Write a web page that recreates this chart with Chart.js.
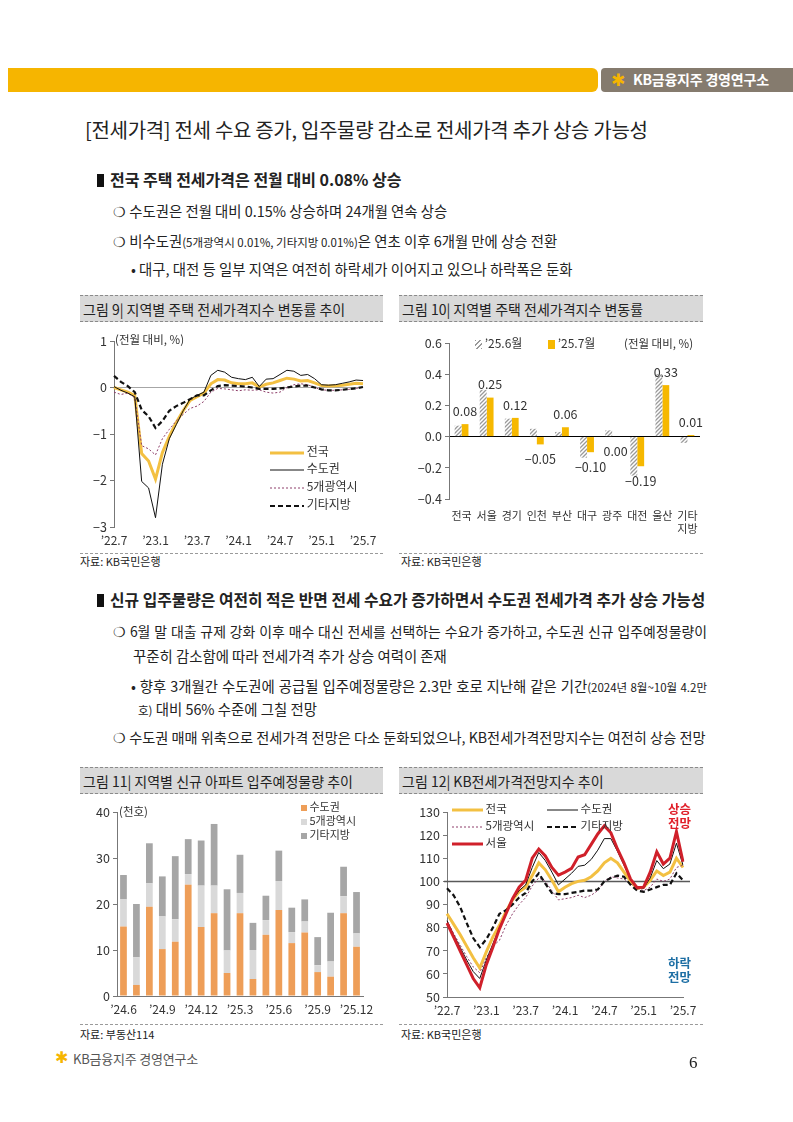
<!DOCTYPE html>
<html>
<head>
<meta charset="utf-8">
<script src="https://cdn.jsdelivr.net/npm/chart.js@4"></script>
<style>
body{margin:0;width:793px;height:1122px;position:relative;background:#fff;overflow:hidden;
  font-family:"Noto Sans CJK KR","Noto Sans",sans-serif;color:#222}
.t{position:absolute;white-space:nowrap;line-height:1}
.b{font-size:14.4px}
.b small{font-size:11.5px}
.sq{display:inline-block;width:7px;height:13px;background:#111;margin-right:6px;vertical-align:-1px}
.just{text-align:justify;text-align-last:justify}
.fig{position:absolute;height:27px;background:#d9d9d9;border-top:1px dashed #8a8a8a;border-bottom:1px dashed #8a8a8a;
  font-size:14px;line-height:26px;padding-left:3px;box-sizing:border-box;white-space:nowrap}
.src{position:absolute;font-size:11px;line-height:1;white-space:nowrap}
.sep{position:absolute;height:0;border-top:1px dashed #9a9a9a}
.cv{position:absolute}
.lg{position:absolute;font-size:11px;line-height:1;white-space:nowrap;color:#333}
.lg svg{vertical-align:middle}
</style>
</head>
<body>

<!-- header -->
<div style="position:absolute;left:8px;top:68px;width:590px;height:24px;background:#F6B500;border-radius:0 6px 6px 0"></div>
<div style="position:absolute;left:601px;top:68px;width:192px;height:24px;background:#857b6e;border-radius:4px 0 0 4px"></div>
<div class="t" style="left:611px;top:72px;font-size:17px;color:#F6B500;font-family:'DejaVu Sans'">✱</div>
<div class="t" style="left:633px;top:72px;font-size:14px;font-weight:bold;color:#fff;letter-spacing:-0.2px">KB금융지주 경영연구소</div>

<div class="t" style="left:85px;top:120px;font-size:20px;letter-spacing:-0.3px">[전세가격] 전세 수요 증가, 입주물량 감소로 전세가격 추가 상승 가능성</div>

<div class="t" style="left:97px;top:171px;font-size:16px;font-weight:bold"><span class="sq"></span>전국 주택 전세가격은 전월 대비 0.08% 상승</div>
<div class="t b" style="left:113px;top:204px">❍ 수도권은 전월 대비 0.15% 상승하며 24개월 연속 상승</div>
<div class="t b" style="left:113px;top:234px">❍ 비수도권<small>(5개광역시 0.01%, 기타지방 0.01%)</small>은 연초 이후 6개월 만에 상승 전환</div>
<div class="t b" style="left:131px;top:262px">• 대구, 대전 등 일부 지역은 여전히 하락세가 이어지고 있으나 하락폭은 둔화</div>

<div class="fig" style="left:80px;top:295px;width:303px">그림 9| 지역별 주택 전세가격지수 변동률 추이</div>
<div class="fig" style="left:399px;top:295px;width:304px">그림 10| 지역별 주택 전세가격지수 변동률</div>

<canvas id="c9" class="cv" width="310" height="225" style="left:80px;top:328px"></canvas>
<canvas id="c10" class="cv" width="310" height="225" style="left:400px;top:328px"></canvas>

<div class="lg" style="left:115px;top:334px;font-size:11.5px">(전월 대비, %)</div>
<div class="lg" style="left:270px;top:445px;font-size:12px"><svg width="34" height="6"><line x1="0" y1="3" x2="34" y2="3" stroke="#F3C042" stroke-width="3"/></svg> 전국</div>
<div class="lg" style="left:270px;top:462px;font-size:12px"><svg width="34" height="6"><line x1="0" y1="3" x2="34" y2="3" stroke="#111" stroke-width="1"/></svg> 수도권</div>
<div class="lg" style="left:270px;top:480px;font-size:12px"><svg width="34" height="6"><line x1="0" y1="3" x2="34" y2="3" stroke="#8e3f6a" stroke-width="1" stroke-dasharray="2 2"/></svg> 5개광역시</div>
<div class="lg" style="left:270px;top:498px;font-size:12px"><svg width="34" height="6"><line x1="0" y1="3" x2="34" y2="3" stroke="#111" stroke-width="2.2" stroke-dasharray="5 3"/></svg> 기타지방</div>

<div class="lg" style="left:475px;top:337px;font-size:12px"><span style="display:inline-block;width:7px;height:9px;background:repeating-linear-gradient(135deg,#999 0 1.3px,#fff 1.3px 3.3px);vertical-align:-1px"></span> ’25.6월</div>
<div class="lg" style="left:548px;top:337px;font-size:12px"><span style="display:inline-block;width:7px;height:9px;background:#F6B800;vertical-align:-1px"></span> ’25.7월</div>
<div class="lg" style="left:624px;top:338px;font-size:11.5px">(전월 대비, %)</div>

<div class="sep" style="left:80px;top:553px;width:303px"></div>
<div class="sep" style="left:399px;top:553px;width:304px"></div>
<div class="src" style="left:80px;top:556px">자료: KB국민은행</div>
<div class="src" style="left:401px;top:556px">자료: KB국민은행</div>

<div class="t" style="left:97px;top:592px;font-size:15.8px;font-weight:bold"><span class="sq"></span>신규 입주물량은 여전히 적은 반면 전세 수요가 증가하면서 수도권 전세가격 추가 상승 가능성</div>
<div class="t just" style="left:113px;top:625px;width:594px;font-size:13.9px">❍ 6월 말 대출 규제 강화 이후 매수 대신 전세를 선택하는 수요가 증가하고, 수도권 신규 입주예정물량이</div>
<div class="t b" style="left:133px;top:649px">꾸준히 감소함에 따라 전세가격 추가 상승 여력이 존재</div>
<div class="t b just" style="left:131px;top:679px;width:576px">• 향후 3개월간 수도권에 공급될 입주예정물량은 2.3만 호로 지난해 같은 기간<small>(2024년 8월~10월 4.2만</small></div>
<div class="t b" style="left:138px;top:702px"><small>호)</small> 대비 56% 수준에 그칠 전망</div>
<div class="t" style="left:113px;top:730px;font-size:14.2px">❍ 수도권 매매 위축으로 전세가격 전망은 다소 둔화되었으나, KB전세가격전망지수는 여전히 상승 전망</div>

<div class="fig" style="left:80px;top:767px;width:303px">그림 11| 지역별 신규 아파트 입주예정물량 추이</div>
<div class="fig" style="left:399px;top:767px;width:304px">그림 12| KB전세가격전망지수 추이</div>

<canvas id="c11" class="cv" width="310" height="225" style="left:80px;top:795px"></canvas>
<canvas id="c12" class="cv" width="310" height="225" style="left:400px;top:795px"></canvas>

<div class="lg" style="left:119px;top:806px;font-size:11.5px">(천호)</div>
<div class="lg" style="left:301px;top:801px"><span style="display:inline-block;width:6px;height:6px;background:#EE9E58"></span> 수도권</div>
<div class="lg" style="left:301px;top:815px"><span style="display:inline-block;width:6px;height:6px;background:#D9D9D9"></span> 5개광역시</div>
<div class="lg" style="left:301px;top:829px"><span style="display:inline-block;width:6px;height:6px;background:#A6A6A6"></span> 기타지방</div>

<div class="lg" style="left:452px;top:803px;font-size:11.5px"><svg width="31" height="6"><line x1="0" y1="3" x2="31" y2="3" stroke="#F3C042" stroke-width="3"/></svg> 전국</div>
<div class="lg" style="left:547px;top:803px;font-size:11.5px"><svg width="31" height="6"><line x1="0" y1="3" x2="31" y2="3" stroke="#111" stroke-width="1"/></svg> 수도권</div>
<div class="lg" style="left:452px;top:820px;font-size:11.5px"><svg width="31" height="6"><line x1="0" y1="3" x2="31" y2="3" stroke="#8e3f6a" stroke-width="1" stroke-dasharray="2 2"/></svg> 5개광역시</div>
<div class="lg" style="left:547px;top:820px;font-size:11.5px"><svg width="31" height="6"><line x1="0" y1="3" x2="31" y2="3" stroke="#111" stroke-width="2.2" stroke-dasharray="5 3"/></svg> 기타지방</div>
<div class="lg" style="left:452px;top:837px;font-size:11.5px"><svg width="31" height="6"><line x1="0" y1="3" x2="31" y2="3" stroke="#D0202A" stroke-width="3"/></svg> 서울</div>
<div class="lg" style="left:668px;top:802px;font-weight:bold;color:#E0202A;font-size:12.5px;line-height:14px;text-align:center">상승<br>전망</div>
<div class="lg" style="left:668px;top:956px;font-weight:bold;color:#1C6EA4;font-size:12.5px;line-height:14px;text-align:center">하락<br>전망</div>

<div class="sep" style="left:80px;top:1024px;width:303px"></div>
<div class="sep" style="left:399px;top:1024px;width:304px"></div>
<div class="src" style="left:80px;top:1029px">자료: 부동산114</div>
<div class="src" style="left:401px;top:1029px">자료: KB국민은행</div>

<!-- footer -->
<div class="t" style="left:55px;top:1050px;font-size:16px;color:#F6B500;font-family:'DejaVu Sans'">✱</div>
<div class="t" style="left:73px;top:1052px;font-size:13px;color:#555;letter-spacing:-0.2px">KB금융지주 경영연구소</div>
<div class="t" style="left:689px;top:1054px;font-size:17px;font-family:'Liberation Serif',serif">6</div>

<script>
// monthly labels
const months = ['22.7','22.8','22.9','22.10','22.11','22.12','23.1','23.2','23.3','23.4','23.5','23.6',
  '23.7','23.8','23.9','23.10','23.11','23.12','24.1','24.2','24.3','24.4','24.5','24.6',
  '24.7','24.8','24.9','24.10','24.11','24.12','25.1','25.2','25.3','25.4','25.5','25.6','25.7'];
const tickMonths = ['22.7','23.1','23.7','24.1','24.7','25.1','25.7'];

// 그림 9 : 전월 대비 %
const national9 = [0.0,-0.05,-0.1,-0.17,-1.42,-1.58,-1.97,-1.4,-1.05,-0.75,-0.5,-0.28,-0.2,-0.12,0.08,0.17,0.16,0.1,0.08,0.08,0.1,0.01,0.07,0.1,0.15,0.2,0.18,0.14,0.15,0.1,0.04,0.03,0.04,0.05,0.07,0.09,0.08];
const capital9 = [0.02,-0.06,-0.12,-0.2,-2.02,-2.16,-2.8,-1.65,-1.1,-0.8,-0.5,-0.25,-0.17,-0.1,0.26,0.37,0.33,0.22,0.19,0.17,0.22,0.02,0.18,0.19,0.28,0.37,0.35,0.26,0.28,0.19,0.06,0.05,0.06,0.09,0.12,0.16,0.15];
const metro9 = [-0.1,-0.15,-0.12,-0.22,-1.25,-1.32,-1.45,-1.1,-0.9,-0.72,-0.58,-0.45,-0.4,-0.3,-0.1,-0.02,-0.03,-0.05,-0.07,-0.05,-0.06,-0.05,-0.1,-0.12,-0.1,0.0,0.06,0.08,0.06,0.0,-0.05,-0.06,-0.06,-0.05,-0.04,-0.02,0.01];
const other9 = [0.25,0.12,0.03,-0.1,-0.48,-0.62,-0.87,-0.72,-0.5,-0.4,-0.33,-0.25,-0.17,-0.17,-0.06,0.03,0.05,0.04,0.03,0.02,0.0,-0.03,-0.03,-0.03,-0.02,0.0,0.02,0.04,0.04,0.0,-0.04,-0.06,-0.06,-0.05,-0.03,-0.02,0.01];

// 그림 10
const regions10 = ['전국','서울','경기','인천','부산','대구','광주','대전','울산',['기타','지방']];
const jun10 = [0.07,0.30,0.115,0.05,0.03,-0.135,0.04,-0.25,0.40,-0.04];
const jul10 = [0.08,0.25,0.12,-0.05,0.06,-0.10,0.00,-0.19,0.33,0.01];

// 그림 11 : 천호
const months11 = ['24.6','24.7','24.8','24.9','24.10','24.11','24.12','25.1','25.2','25.3','25.4','25.5','25.6','25.7','25.8','25.9','25.10','25.11','25.12'];
const tickMonths11 = ['24.6','24.9','24.12','25.3','25.6','25.9','25.12'];
const capital11 = [15.1,2.4,19.4,10.2,11.8,24.2,15.0,18.0,5.0,18.0,3.7,13.3,18.7,11.5,13.8,5.2,4.2,18.0,10.7];
const metro11 = [5.9,6.0,5.1,7.1,4.9,2.3,9.0,6.0,4.9,4.4,6.3,3.2,6.3,2.4,2.4,1.5,3.3,3.7,2.9];
const other11 = [5.3,11.6,8.7,8.7,13.7,7.6,9.8,13.4,13.3,8.3,5.9,5.3,6.6,5.3,4.8,6.1,10.6,6.4,9.0];

// 그림 12 : 전망지수
const seoul12 = [82,76,70,64,58,54,64,71.5,79.5,86,92.5,97.5,100.5,110,114,111,106,102.7,104,105.6,110.5,111.5,116,120.5,124,121,114,108,101,97.3,97.5,104,112.8,107.5,110,121.5,108.5];
const national12 = [86,81.5,77,72,67,62.5,69.5,76,81,87,92,95.5,97.5,102.5,108,105,100.5,95.5,97.5,99,100,100.5,102,104.5,108,110,108,104,100,97,97.5,100.5,104.5,102.5,104,110,106];
const capital12 = [83,77,71.5,66,61,58,66,73,80,86,92,96,98.5,106,112.5,109,104,98.5,101,103.5,106.5,107,109.5,113.5,118.5,118.5,113,107,101,97.5,97,101.5,109,105.5,107.5,116.5,107];
const metro12 = [83,77.5,72.5,67.5,63,60.5,67,72,74.5,81,86,90,93,98,101.5,100,96,92,92.5,93,94,93,94,96,100,102,101.5,101,99,97,96,97.5,101,100,101,106,107];
const other12 = [97,94,89,82,75.5,71.5,75,80,86,87.5,90,93,95,100,103.5,99,95,94.5,94.5,95,95.5,96,96,96.5,100,101.5,102.5,102,98.5,96,95.5,96.5,97.5,98.5,98.5,103.5,100.5];

Chart.defaults.font.family = '"Noto Sans CJK KR","Noto Sans",sans-serif';
Chart.defaults.font.size = 12.5;
Chart.defaults.color = '#333';
Chart.defaults.animation = false;
Chart.defaults.plugins.legend.display = false;
Chart.defaults.plugins.tooltip.enabled = false;

const signed = (v, d) => {
  const r = Math.round(v * 100) / 100;
  const s = d === undefined ? String(Math.abs(r)) : Math.abs(r).toFixed(d);
  return (r < 0 ? '−' : '') + s;
};

const monthTicks = (list, keep) => ({
  autoSkip: false, maxRotation: 0, padding: 6, font: { size: 12 },
  callback: (v, i) => keep.includes(list[i]) ? '’' + list[i] : null
});

const hatch = () => {
  const c = document.createElement('canvas');
  c.width = 4; c.height = 4;
  const g = c.getContext('2d');
  g.fillStyle = '#fff';
  g.fillRect(0, 0, 4, 4);
  g.strokeStyle = '#9a9a9a';
  g.lineWidth = 1.3;
  g.beginPath();
  g.moveTo(0, 4); g.lineTo(4, 0);
  g.moveTo(-1, 1); g.lineTo(1, -1);
  g.moveTo(3, 5); g.lineTo(5, 3);
  g.stroke();
  return g.createPattern(c, 'repeat');
};

// 그림 9
new Chart(document.getElementById('c9'), {
  type: 'line',
  data: {
    labels: months,
    datasets: [
      { data: capital9, borderColor: '#111', borderWidth: 1 },
      { data: other9, borderColor: '#111', borderWidth: 2.2, borderDash: [5, 3] },
      { data: metro9, borderColor: '#8e3f6a', borderWidth: 1, borderDash: [2, 2] },
      { data: national9, borderColor: '#F3C042', borderWidth: 3 }
    ]
  },
  options: {
    responsive: false,
    layout: { padding: { top: 13, right: 27 } },
    elements: { point: { radius: 0 }, line: { tension: 0 } },
    scales: {
      x: {
        grid: { display: false, drawTicks: false },
        border: { display: false },
        afterFit: s => { s.height = 26; },
        ticks: monthTicks(months, tickMonths)
      },
      y: {
        min: -3, max: 1,
        afterFit: s => { s.width = 34; },
        ticks: { stepSize: 1, padding: 3, callback: v => signed(v) },
        grid: { color: c => c.tick.value === 0 ? '#a6a6a6' : 'rgba(0,0,0,0)', tickColor: '#777', tickLength: 4 },
        border: { color: '#777' }
      }
    }
  }
});

// 그림 10
const barLabels = {
  id: 'barLabels',
  afterDatasetsDraw(chart) {
    const ctx = chart.ctx;
    const meta = chart.getDatasetMeta(1);
    ctx.save();
    ctx.font = '12.5px "Noto Sans CJK KR","Noto Sans",sans-serif';
    ctx.fillStyle = '#333';
    ctx.textAlign = 'center';
    ctx.textBaseline = 'middle';
    meta.data.forEach((el, i) => {
      const v = jul10[i];
      const y = v > 0 ? el.y - 13 : el.y + 15;
      ctx.fillText(signed(v, 2), el.x, y);
    });
    ctx.restore();
  }
};

new Chart(document.getElementById('c10'), {
  type: 'bar',
  data: {
    labels: regions10,
    datasets: [
      { data: jun10, backgroundColor: hatch() },
      { data: jul10, backgroundColor: '#F6B800' }
    ]
  },
  options: {
    responsive: false,
    layout: { padding: { top: 15, right: 10 } },
    datasets: { bar: { categoryPercentage: 0.55, barPercentage: 1 } },
    scales: {
      x: {
        grid: { display: false, drawTicks: false },
        border: { display: false },
        afterFit: s => { s.height = 54; },
        ticks: { autoSkip: false, maxRotation: 0, padding: 10, font: { size: 11 } }
      },
      y: {
        min: -0.4, max: 0.6,
        afterFit: s => { s.width = 49; },
        ticks: { stepSize: 0.2, padding: 3, callback: v => signed(v, 1) },
        grid: { color: c => Math.abs(c.tick.value) < 1e-9 ? '#000' : 'rgba(0,0,0,0)', tickColor: '#777', tickLength: 4 },
        border: { color: '#777' }
      }
    }
  },
  plugins: [barLabels]
});

// 그림 11
new Chart(document.getElementById('c11'), {
  type: 'bar',
  data: {
    labels: months11,
    datasets: [
      { data: capital11, backgroundColor: '#EE9E58' },
      { data: metro11, backgroundColor: '#D9D9D9' },
      { data: other11, backgroundColor: '#A6A6A6' }
    ]
  },
  options: {
    responsive: false,
    layout: { padding: { top: 17, right: 27 } },
    datasets: { bar: { categoryPercentage: 1, barPercentage: 0.52 } },
    scales: {
      x: {
        stacked: true,
        grid: { display: false, drawTicks: false },
        border: { color: '#777' },
        afterFit: s => { s.height = 24; },
        ticks: monthTicks(months11, tickMonths11)
      },
      y: {
        stacked: true, min: 0, max: 40,
        afterFit: s => { s.width = 37; },
        ticks: { stepSize: 10, padding: 3 },
        grid: { drawOnChartArea: false, tickColor: '#777', tickLength: 4 },
        border: { color: '#777' }
      }
    }
  }
});

// 그림 12
const baseLine = {
  id: 'baseLine',
  beforeDatasetsDraw(chart) {
    const { ctx, chartArea: a, scales: { y } } = chart;
    const yy = y.getPixelForValue(100);
    ctx.save();
    ctx.strokeStyle = '#595959';
    ctx.lineWidth = 1.5;
    ctx.beginPath();
    ctx.moveTo(a.left - 3, yy);
    ctx.lineTo(a.right + 7, yy);
    ctx.stroke();
    ctx.restore();
  }
};

new Chart(document.getElementById('c12'), {
  type: 'line',
  data: {
    labels: months,
    datasets: [
      { data: seoul12, borderColor: '#D0202A', borderWidth: 3 },
      { data: capital12, borderColor: '#111', borderWidth: 1 },
      { data: other12, borderColor: '#111', borderWidth: 2.2, borderDash: [5, 3] },
      { data: metro12, borderColor: '#8e3f6a', borderWidth: 1, borderDash: [2, 2] },
      { data: national12, borderColor: '#F3C042', borderWidth: 3 }
    ]
  },
  options: {
    responsive: false,
    layout: { padding: { top: 17, right: 27 } },
    elements: { point: { radius: 0 }, line: { tension: 0 } },
    scales: {
      x: {
        grid: { display: false, drawTicks: false },
        border: { color: '#777' },
        afterFit: s => { s.height = 23; },
        ticks: monthTicks(months, tickMonths)
      },
      y: {
        min: 50, max: 130,
        afterFit: s => { s.width = 47; },
        ticks: { stepSize: 10, padding: 3 },
        grid: { drawOnChartArea: false, tickColor: '#777', tickLength: 4 },
        border: { color: '#777' }
      }
    }
  },
  plugins: [baseLine]
});
</script>
</body>
</html>
